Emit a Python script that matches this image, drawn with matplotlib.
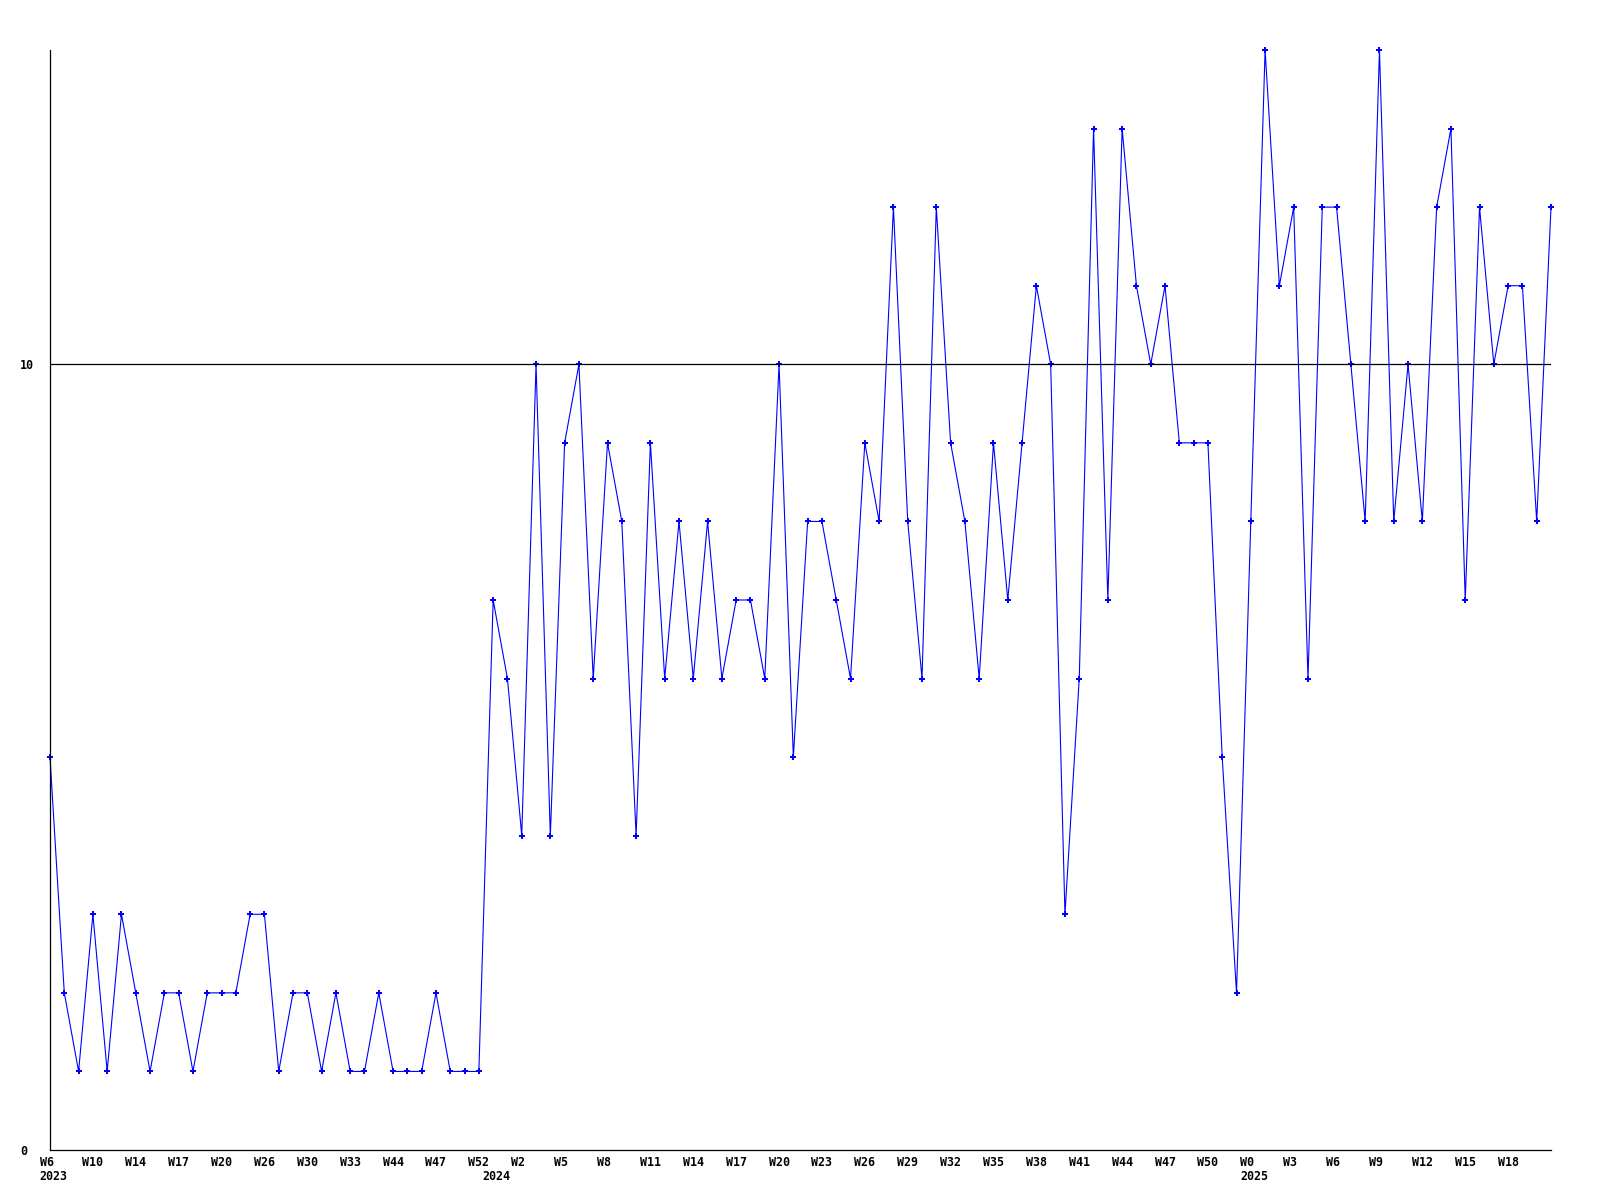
import matplotlib
matplotlib.use('Agg')
import matplotlib.pyplot as plt
import matplotlib.transforms as mtransforms
import numpy as np

# weekly values (one point per week, evenly spaced)
valores = [5, 2, 1, 3, 1, 3, 2, 1, 2, 2, 1, 2, 2, 2, 3, 3, 1, 2, 2, 1,
           2, 1, 1, 2, 1, 1, 1, 2, 1, 1, 1, 7, 6, 4, 10, 4, 9, 10, 6, 9,
           8, 4, 9, 6, 8, 6, 8, 6, 7, 7, 6, 10, 5, 8, 8, 7, 6, 9, 8, 12,
           8, 6, 12, 9, 8, 6, 9, 7, 9, 11, 10, 3, 6, 13, 7, 13, 11, 10, 11, 9,
           9, 9, 5, 2, 8, 14, 11, 12, 6, 12, 12, 10, 8, 14, 8, 10, 8, 12, 13, 7,
           12, 10, 11, 11, 8, 12]

# x-axis labels as printed in the reference, one every 3 points
semanas = ['W6', 'W10', 'W14', 'W17', 'W20', 'W26', 'W30', 'W33', 'W44', 'W47',
           'W52', 'W2', 'W5', 'W8', 'W11', 'W14', 'W17', 'W20', 'W23', 'W26',
           'W29', 'W32', 'W35', 'W38', 'W41', 'W44', 'W47', 'W50', 'W0', 'W3',
           'W6', 'W9', 'W12', 'W15', 'W18']
passo_semanas = 3
anos = ['2023', '2024', '2025']
idx_anos = [0, 31, 84]

y_ticks = [0, 10]
linha_ref = 10

fonte = dict(family='DejaVu Sans Mono', weight='bold', size=8.4)

fig = plt.figure(figsize=(16, 12), dpi=100)
ax = fig.add_axes([50 / 1600, 1 - 1150 / 1200, 1501 / 1600, 1100 / 1200])

x = np.arange(len(valores))
ax.plot(x, valores, color='#0000ff', linewidth=0.8, marker='P',
        markersize=3.8, markeredgewidth=0, clip_on=False)
ax.axhline(linha_ref, color='black', linewidth=0.9)

ax.set_xlim(0, len(valores) - 1)
ax.set_ylim(0, 14)

for s in ['top', 'right']:
    ax.spines[s].set_visible(False)
for s in ['left', 'bottom']:
    ax.spines[s].set_linewidth(0.9)

ax.set_xticks([])
ax.set_yticks(y_ticks)
ax.set_yticklabels([str(v) for v in y_ticks], fontdict=fonte)
ax.tick_params(axis='y', length=0, pad=21.6)
for lbl in ax.get_yticklabels():
    lbl.set_horizontalalignment('left')

# labels start ~10 px left of their point
desloc = mtransforms.ScaledTranslation(-10.5 / 100, 0, fig.dpi_scale_trans)
trans = ax.get_xaxis_transform() + desloc
for i, s in enumerate(semanas):
    ax.text(i * passo_semanas, -12 / 1100, s, transform=trans, ha='left',
            va='center', clip_on=False, **fonte)
for p, s in zip(idx_anos, anos):
    ax.text(p, -27 / 1100, s, transform=trans, ha='left', va='center',
            clip_on=False, **fonte)

plt.savefig('out.png', dpi=100)
